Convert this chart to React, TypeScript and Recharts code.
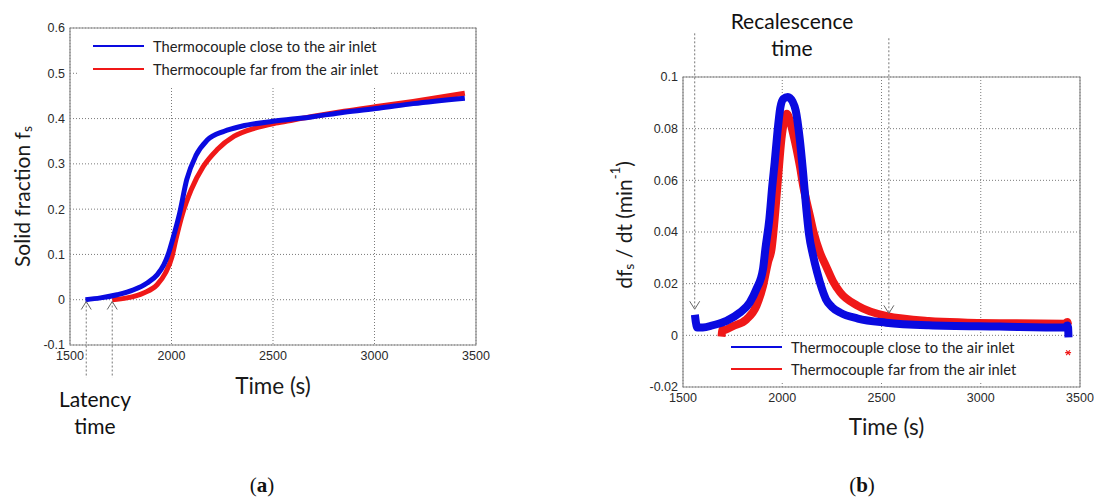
import React from 'react';
import {
    ComposedChart,
    Line,
    Scatter,
    XAxis,
    YAxis,
    CartesianGrid,
    Legend,
    ReferenceLine,
    ReferenceDot,
    ReferenceArea
} from 'recharts';

const CLOSE_NAME = 'Thermocouple close to the air inlet';
const FAR_NAME = 'Thermocouple far from the air inlet';

const timeTicks = [1500, 2000, 2500, 3000, 3500];
const fsTicks = [-0.1, 0, 0.1, 0.2, 0.3, 0.4, 0.5, 0.6];
const rateTicks = [-0.02, 0, 0.02, 0.04, 0.06, 0.08, 0.1];

// (a) solid fraction
const fsCloseTime = [1576, 1650, 1732, 1814, 1880, 1929, 1962, 1986, 2005, 2040, 2075, 2120, 2175, 2260, 2345, 2500, 2680, 2850, 3020, 3190, 3445];
const fsCloseValue = [0, 0.004, 0.011, 0.022, 0.037, 0.055, 0.077, 0.103, 0.132, 0.191, 0.265, 0.318, 0.352, 0.372, 0.383, 0.394, 0.403, 0.414, 0.423, 0.433, 0.445];
const fsFarTime = [1708, 1781, 1863, 1929, 1970, 2003, 2021, 2055, 2097, 2156, 2224, 2309, 2411, 2513, 2600, 2700, 2850, 3020, 3190, 3445];
const fsFarValue = [0, 0.004, 0.015, 0.033, 0.059, 0.096, 0.132, 0.191, 0.243, 0.294, 0.331, 0.361, 0.379, 0.39, 0.397, 0.405, 0.416, 0.427, 0.438, 0.456];

// (b) solidification rate
const rateCloseTime = [1560, 1565, 1572, 1600, 1651, 1719, 1786, 1836, 1870, 1903, 1915, 1935, 1950, 1962, 1975, 1990, 2005, 2028, 2052, 2068, 2088, 2105, 2120, 2135, 2155, 2176, 2200, 2220, 2250, 2292, 2381, 2523, 2737, 3093, 3423, 3436, 3440, 3442];
const rateCloseValue = [0.008, 0.005, 0.003, 0.003, 0.0039, 0.0056, 0.0088, 0.0127, 0.0179, 0.0256, 0.0334, 0.045, 0.058, 0.067, 0.078, 0.088, 0.0915, 0.0923, 0.0905, 0.087, 0.0761, 0.063, 0.05, 0.039, 0.031, 0.0243, 0.018, 0.014, 0.011, 0.0088, 0.0065, 0.0049, 0.0039, 0.0034, 0.003, 0.0038, 0.003, -0.0008];
const rateFarTime = [1694, 1700, 1705, 1752, 1820, 1870, 1903, 1928, 1946, 1965, 1980, 1996, 2010, 2023, 2040, 2055, 2072, 2090, 2105, 2122, 2140, 2158, 2190, 2220, 2255, 2292, 2381, 2523, 2737, 3093, 3423, 3436, 3440];
const rateFarValue = [-0.0005, 0.0025, 0.002, 0.0036, 0.0062, 0.0114, 0.0191, 0.0282, 0.0334, 0.048, 0.062, 0.0761, 0.083, 0.0858, 0.0826, 0.078, 0.0722, 0.065, 0.058, 0.052, 0.046, 0.0399, 0.032, 0.0269, 0.021, 0.0166, 0.0114, 0.0075, 0.0056, 0.0047, 0.0045, 0.0052, 0.004];
const rateFarOutlier = [{ x: 3440, y: -0.0067 }];

// latency / recalescence markers
const latencyTimes = [1580, 1708];
const recalescenceTimes = [1559, 2537];

const BLUE = '#0a0ae0';
const RED = '#f01818';
const GRID = '#7a7a7a';
const FRAME = '#8c8c8c';
const TITLE_FONT = 'Lato, "Open Sans", sans-serif';
const TICK_FONT = '"Liberation Sans", Arial, sans-serif';

const toPoints = (xs: number[], ys: number[]) => xs.map((x, i) => ({ x, y: ys[i] }));

const tickStyle = { fontSize: 12.5, fill: '#2a2a2a', fontFamily: TICK_FONT };

const BottomTitle = (props: any) => {
    const { viewBox, dx = 0, dy = 0 } = props;
    const cx = viewBox.x + viewBox.width / 2 + dx;
    const cy = viewBox.y + dy;
    return (
        <text x={cx} y={cy} textAnchor="middle" dominantBaseline="central" fontSize={22.5} fontFamily={TITLE_FONT} fill="#1a1a1a">
            Time (s)
        </text>
    );
};

const SideTitle = (props: any) => {
    const { viewBox, dx = 0, dy = 0, children } = props;
    const cx = viewBox.x + dx;
    const cy = viewBox.y + viewBox.height / 2 + dy;
    return (
        <text
            x={cx}
            y={cy}
            transform={`rotate(-90 ${cx} ${cy})`}
            textAnchor="middle"
            dominantBaseline="central"
            fontSize={21}
            fontFamily={TITLE_FONT}
            fill="#1a1a1a"
        >
            {children}
        </text>
    );
};

const ArrowHead = (props: any) => {
    const { cx, cy, dir } = props;
    const s = dir === 'up' ? 8 : -8;
    return <polyline points={`${cx - 5},${cy + s} ${cx},${cy} ${cx + 5},${cy + s}`} fill="none" stroke="#666" strokeWidth={1} />;
};

const Asterisk = (props: any) => {
    const { cx, cy } = props;
    const r = 3;
    return (
        <g stroke={RED} strokeWidth={1.2}>
            <line x1={cx - r} y1={cy} x2={cx + r} y2={cy} />
            <line x1={cx - r * 0.6} y1={cy - r * 0.8} x2={cx + r * 0.6} y2={cy + r * 0.8} />
            <line x1={cx + r * 0.6} y1={cy - r * 0.8} x2={cx - r * 0.6} y2={cy + r * 0.8} />
        </g>
    );
};

const legendNames = [CLOSE_NAME, FAR_NAME];

const makeLegend = (lineLeft: number, rowTops: number[]) => (props: any) => {
    const items = legendNames
        .map((name) => (props.payload || []).find((p: any) => p.value === name))
        .filter(Boolean);
    return (
        <div style={{ position: 'relative', width: '100%', height: '100%', background: '#fff' }}>
            {items.map((item: any, i: number) => (
                <div
                    key={item.value}
                    style={{ position: 'absolute', left: lineLeft, top: rowTops[i] - 11, height: 22, display: 'flex', alignItems: 'center', whiteSpace: 'nowrap' }}
                >
                    <svg width={51} height={4} style={{ marginRight: 9 }}>
                        <line x1={0} y1={2} x2={51} y2={2} stroke={item.color} strokeWidth={2.2} />
                    </svg>
                    <span style={{ fontFamily: TITLE_FONT, fontSize: 14.7, color: '#222' }}>{item.value}</span>
                </div>
            ))}
        </div>
    );
};

const SolidFractionChart = () => (
    <ComposedChart width={540} height={502} margin={{ top: 28, right: 64, bottom: 132, left: 20 }}>
        <CartesianGrid stroke={GRID} strokeDasharray="1 2" />
        <ReferenceArea x1={1500} x2={3500} y1={-0.1} y2={0.6} fill="none" stroke={FRAME} strokeWidth={1.2} ifOverflow="visible" />
        <XAxis
            type="number"
            dataKey="x"
            domain={[1500, 3500]}
            ticks={timeTicks}
            allowDataOverflow
            axisLine={false}
            tickLine={false}
            tickSize={4}
            tickMargin={2}
            height={25}
            tick={tickStyle}
            label={<BottomTitle dy={40} />}
        />
        <YAxis
            type="number"
            dataKey="y"
            domain={[-0.1, 0.6]}
            ticks={fsTicks}
            allowDataOverflow
            axisLine={false}
            tickLine={false}
            tickSize={3}
            tickMargin={2}
            width={50}
            tick={tickStyle}
            label={
                <SideTitle dx={1} dy={10}>
                    Solid fraction f<tspan dy={5} fontSize={14}>s</tspan>
                </SideTitle>
            }
        />
        {latencyTimes.map((t) => (
            <ReferenceLine
                key={`l${t}`}
                segment={[{ x: t, y: -0.004 }, { x: t, y: -0.172 }]}
                stroke="#777"
                strokeDasharray="2 2"
                ifOverflow="visible"
            />
        ))}
        {latencyTimes.map((t) => (
            <ReferenceDot key={`a${t}`} x={t} y={-0.004} ifOverflow="visible" shape={(p: any) => <ArrowHead {...p} dir="up" />} />
        ))}
        <Line data={toPoints(fsFarTime, fsFarValue)} dataKey="y" name={FAR_NAME} type="monotone" stroke={RED} strokeWidth={5} dot={false} isAnimationActive={false} />
        <Line data={toPoints(fsCloseTime, fsCloseValue)} dataKey="y" name={CLOSE_NAME} type="monotone" stroke={BLUE} strokeWidth={5} dot={false} isAnimationActive={false} />
        <Legend
            layout="vertical"
            align="center"
            verticalAlign="middle"
            wrapperStyle={{ left: 78, top: 29, width: 312, height: 57 }}
            content={makeLegend(15, [17, 40])}
        />
    </ComposedChart>
);

const RateChart = () => (
    <ComposedChart width={554} height={502} margin={{ top: 77, right: 14, bottom: 90, left: 93 }}>
        <CartesianGrid stroke={GRID} strokeDasharray="1 2" />
        <ReferenceArea x1={1500} x2={3500} y1={-0.02} y2={0.1} fill="none" stroke={FRAME} strokeWidth={1.2} ifOverflow="visible" />
        <XAxis
            type="number"
            dataKey="x"
            domain={[1500, 3500]}
            ticks={timeTicks}
            allowDataOverflow
            axisLine={false}
            tickLine={false}
            tickSize={4}
            tickMargin={2}
            height={25}
            tick={tickStyle}
            label={<BottomTitle dx={5} dy={39} />}
        />
        <YAxis
            type="number"
            dataKey="y"
            domain={[-0.02, 0.1]}
            ticks={rateTicks}
            allowDataOverflow
            axisLine={false}
            tickLine={false}
            tickSize={3}
            tickMargin={2}
            width={50}
            tick={tickStyle}
            label={
                <SideTitle dx={-10} dy={-7}>
                    df<tspan dy={5} fontSize={14}>s</tspan>
                    <tspan dy={-5}> / dt (min</tspan>
                    <tspan dy={-8} fontSize={13}>-1</tspan>
                    <tspan dy={8}>)</tspan>
                </SideTitle>
            }
        />
        {recalescenceTimes.map((t, i) => (
            <ReferenceLine
                key={`r${t}`}
                segment={[{ x: t, y: i === 0 ? 0.1169 : 0.115 }, { x: t, y: i === 0 ? 0.0101 : 0.0085 }]}
                stroke="#777"
                strokeDasharray="2 2"
                ifOverflow="visible"
            />
        ))}
        {recalescenceTimes.map((t, i) => (
            <ReferenceDot
                key={`v${t}`}
                x={t}
                y={i === 0 ? 0.0101 : 0.0085}
                ifOverflow="visible"
                shape={(p: any) => <ArrowHead {...p} dir="down" />}
            />
        ))}
        <Line data={toPoints(rateFarTime, rateFarValue)} dataKey="y" name={FAR_NAME} type="monotone" stroke={RED} strokeWidth={8} dot={false} isAnimationActive={false} />
        <Line data={toPoints(rateCloseTime, rateCloseValue)} dataKey="y" name={CLOSE_NAME} type="monotone" stroke={BLUE} strokeWidth={8} dot={false} isAnimationActive={false} />
        <Scatter data={rateFarOutlier} dataKey="y" name="outlier" legendType="none" shape={(p: any) => <Asterisk {...p} />} isAnimationActive={false} />
        <Legend
            layout="vertical"
            align="center"
            verticalAlign="middle"
            wrapperStyle={{ left: 182, top: 338, width: 298, height: 44 }}
            content={makeLegend(9, [9, 31])}
        />
    </ComposedChart>
);

const captionStyle: React.CSSProperties = {
    position: 'absolute',
    top: 473,
    width: 60,
    textAlign: 'center',
    fontFamily: '"Liberation Serif", "DejaVu Serif", serif',
    fontSize: 21,
    color: '#111'
};

const noteStyle: React.CSSProperties = {
    position: 'absolute',
    textAlign: 'center',
    fontFamily: TITLE_FONT,
    fontSize: 21,
    lineHeight: '27px',
    color: '#111'
};

export default function App() {
    return (
        <div style={{ position: 'absolute', left: 0, top: 0, width: 1094, height: 502, background: '#fff', overflow: 'hidden' }}>
            <div style={{ position: 'absolute', left: 0, top: 0 }}>
                <SolidFractionChart />
            </div>
            <div style={{ position: 'absolute', left: 540, top: 0 }}>
                <RateChart />
            </div>
            <div style={{ ...noteStyle, left: 35, top: 385, width: 120 }}>
                Latency
                <br />
                time
            </div>
            <div style={{ ...noteStyle, left: 712, top: 7, width: 160 }}>
                Recalescence
                <br />
                time
            </div>
            <div style={{ ...captionStyle, left: 232 }}>
                (<b>a</b>)
            </div>
            <div style={{ ...captionStyle, left: 832 }}>
                (<b>b</b>)
            </div>
        </div>
    );
}
